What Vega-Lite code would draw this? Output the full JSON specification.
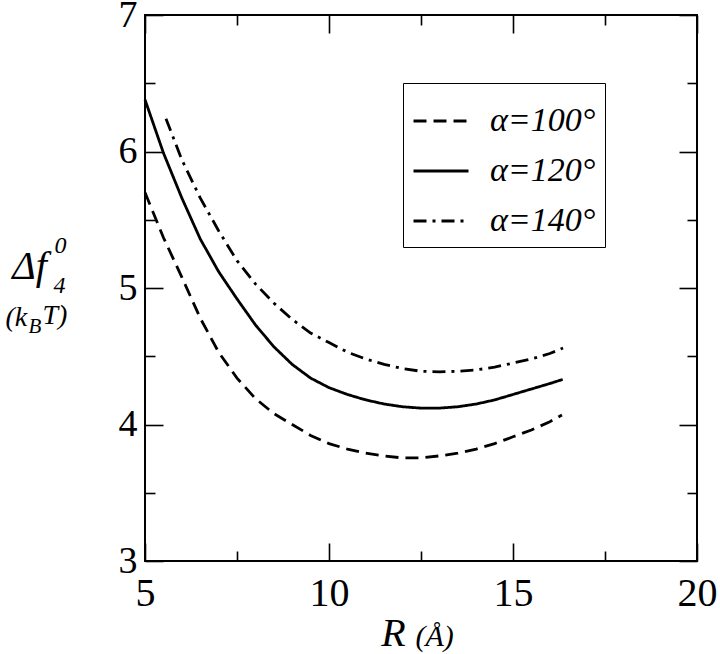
{
  "$schema": "https://vega.github.io/schema/vega-lite/v6.json",
  "width": 552,
  "height": 546,
  "autosize": {"type": "none"},
  "padding": {"left": 145, "top": 15, "right": 23, "bottom": 93},
  "config": {
    "view": {"stroke": "black", "strokeWidth": 2},
    "axis": {"grid": false, "domain": false, "tickColor": "black", "tickWidth": 1.6, "labelColor": "black", "titleColor": "black"}
  },
  "data": {"values": [
    {"a": "α=100°", "R": 5.0, "F": 5.70},
    {"a": "α=100°", "R": 5.5, "F": 5.37},
    {"a": "α=100°", "R": 6.0, "F": 5.08},
    {"a": "α=100°", "R": 6.5, "F": 4.78},
    {"a": "α=100°", "R": 7.0, "F": 4.53},
    {"a": "α=100°", "R": 7.5, "F": 4.34},
    {"a": "α=100°", "R": 8.0, "F": 4.19},
    {"a": "α=100°", "R": 8.5, "F": 4.08},
    {"a": "α=100°", "R": 9.0, "F": 4.00},
    {"a": "α=100°", "R": 9.5, "F": 3.92},
    {"a": "α=100°", "R": 10.0, "F": 3.86},
    {"a": "α=100°", "R": 10.5, "F": 3.82},
    {"a": "α=100°", "R": 11.0, "F": 3.79},
    {"a": "α=100°", "R": 11.5, "F": 3.77},
    {"a": "α=100°", "R": 12.0, "F": 3.755},
    {"a": "α=100°", "R": 12.5, "F": 3.755},
    {"a": "α=100°", "R": 13.0, "F": 3.77},
    {"a": "α=100°", "R": 13.5, "F": 3.79},
    {"a": "α=100°", "R": 14.0, "F": 3.82},
    {"a": "α=100°", "R": 14.5, "F": 3.86},
    {"a": "α=100°", "R": 15.0, "F": 3.91},
    {"a": "α=100°", "R": 15.5, "F": 3.96},
    {"a": "α=100°", "R": 16.0, "F": 4.02},
    {"a": "α=100°", "R": 16.33, "F": 4.07},
    {"a": "α=120°", "R": 5.0, "F": 6.38},
    {"a": "α=120°", "R": 5.5, "F": 5.99},
    {"a": "α=120°", "R": 6.0, "F": 5.66},
    {"a": "α=120°", "R": 6.5, "F": 5.36},
    {"a": "α=120°", "R": 7.0, "F": 5.12},
    {"a": "α=120°", "R": 7.5, "F": 4.92},
    {"a": "α=120°", "R": 8.0, "F": 4.73},
    {"a": "α=120°", "R": 8.5, "F": 4.57},
    {"a": "α=120°", "R": 9.0, "F": 4.44},
    {"a": "α=120°", "R": 9.5, "F": 4.34},
    {"a": "α=120°", "R": 10.0, "F": 4.27},
    {"a": "α=120°", "R": 10.5, "F": 4.22},
    {"a": "α=120°", "R": 11.0, "F": 4.18},
    {"a": "α=120°", "R": 11.5, "F": 4.15},
    {"a": "α=120°", "R": 12.0, "F": 4.13},
    {"a": "α=120°", "R": 12.5, "F": 4.12},
    {"a": "α=120°", "R": 13.0, "F": 4.12},
    {"a": "α=120°", "R": 13.5, "F": 4.13},
    {"a": "α=120°", "R": 14.0, "F": 4.15},
    {"a": "α=120°", "R": 14.5, "F": 4.18},
    {"a": "α=120°", "R": 15.0, "F": 4.22},
    {"a": "α=120°", "R": 15.5, "F": 4.26},
    {"a": "α=120°", "R": 16.0, "F": 4.30},
    {"a": "α=120°", "R": 16.35, "F": 4.33},
    {"a": "α=140°", "R": 5.57, "F": 6.24},
    {"a": "α=140°", "R": 6.0, "F": 5.94},
    {"a": "α=140°", "R": 6.5, "F": 5.66},
    {"a": "α=140°", "R": 7.0, "F": 5.42},
    {"a": "α=140°", "R": 7.5, "F": 5.20},
    {"a": "α=140°", "R": 8.0, "F": 5.03},
    {"a": "α=140°", "R": 8.5, "F": 4.89},
    {"a": "α=140°", "R": 9.0, "F": 4.77},
    {"a": "α=140°", "R": 9.5, "F": 4.67},
    {"a": "α=140°", "R": 10.0, "F": 4.60},
    {"a": "α=140°", "R": 10.5, "F": 4.53},
    {"a": "α=140°", "R": 11.0, "F": 4.48},
    {"a": "α=140°", "R": 11.5, "F": 4.44},
    {"a": "α=140°", "R": 12.0, "F": 4.41},
    {"a": "α=140°", "R": 12.5, "F": 4.39},
    {"a": "α=140°", "R": 13.0, "F": 4.385},
    {"a": "α=140°", "R": 13.5, "F": 4.39},
    {"a": "α=140°", "R": 14.0, "F": 4.40},
    {"a": "α=140°", "R": 14.5, "F": 4.42},
    {"a": "α=140°", "R": 15.0, "F": 4.45},
    {"a": "α=140°", "R": 15.5, "F": 4.48},
    {"a": "α=140°", "R": 16.0, "F": 4.52},
    {"a": "α=140°", "R": 16.36, "F": 4.56}
  ]},
  "resolve": {"axis": {"x": "independent", "y": "independent"}},
  "layer": [
    {
      "mark": {"type": "line", "color": "black", "strokeWidth": 2.8},
      "encoding": {
        "x": {"field": "R", "type": "quantitative", "scale": {"domain": [5, 20], "nice": false, "zero": false},
          "axis": {"orient": "bottom", "values": [5, 10, 15, 20], "format": "d", "tickSize": -18,
            "labelPadding": 30, "labelFont": "Liberation Serif", "labelFontSize": 40, "labelFlush": false,
            "title": "R", "titleFont": "Liberation Serif", "titleFontStyle": "italic", "titleFontWeight": "normal", "titleFontSize": 40, "titleAlign": "center", "titleBaseline": "alphabetic", "titleX": 248, "titleY": 84}},
        "y": {"field": "F", "type": "quantitative", "scale": {"domain": [3, 7], "nice": false, "zero": false},
          "axis": {"orient": "left", "values": [3, 4, 5, 6, 7], "format": "d", "tickSize": -18,
            "labelPadding": 26, "labelFont": "Liberation Serif", "labelFontSize": 38, "labelFlush": false, "labelBaseline": "middle",
            "title": "Δf", "titleFont": "Liberation Serif", "titleFontStyle": "italic", "titleFontWeight": "normal", "titleFontSize": 40, "titleAngle": 0, "titleAlign": "center", "titleBaseline": "alphabetic", "titleX": -116, "titleY": 263}},
        "strokeDash": {"field": "a", "type": "nominal",
          "scale": {"domain": ["α=100°", "α=120°", "α=140°"], "range": [[13, 7], [1, 0], [13, 6, 3, 6]]},
          "legend": {"title": null, "orient": "none", "legendX": 258, "legendY": 68,
            "symbolType": "stroke", "symbolSize": 3025, "symbolStrokeWidth": 3, "symbolStrokeColor": "black",
            "labelFont": "Liberation Serif", "labelFontStyle": "italic", "labelFontSize": 34, "labelColor": "black",
            "labelOffset": 20, "rowPadding": 4, "padding": 9, "strokeColor": "black", "fillColor": "white"}}
      }
    },
    {
      "mark": {"type": "point", "opacity": 0},
      "encoding": {
        "x": {"field": "R", "type": "quantitative", "scale": {"domain": [5, 20], "nice": false, "zero": false},
          "axis": {"orient": "top", "values": [5, 10, 15, 20], "labels": false, "tickSize": -18,
            "title": "0", "titleFont": "Liberation Serif", "titleFontStyle": "italic", "titleFontWeight": "normal", "titleFontSize": 24, "titleAlign": "center", "titleBaseline": "alphabetic", "titleX": -85, "titleY": 237}},
        "y": {"field": "F", "type": "quantitative", "scale": {"domain": [3, 7], "nice": false, "zero": false},
          "axis": {"orient": "right", "values": [3, 4, 5, 6, 7], "labels": false, "tickSize": -18,
            "title": "4", "titleFont": "Liberation Serif", "titleFontStyle": "italic", "titleFontWeight": "normal", "titleFontSize": 24, "titleAngle": 0, "titleAlign": "center", "titleBaseline": "alphabetic", "titleX": -638, "titleY": 277}}
      }
    },
    {
      "mark": {"type": "point", "opacity": 0},
      "encoding": {
        "x": {"field": "R", "type": "quantitative", "scale": {"domain": [5, 20], "nice": false, "zero": false},
          "axis": {"orient": "bottom", "values": [7.5, 12.5, 17.5], "labels": false, "tickSize": -10,
            "title": "(k", "titleFont": "Liberation Serif", "titleFontStyle": "italic", "titleFontWeight": "normal", "titleFontSize": 28, "titleAlign": "left", "titleBaseline": "alphabetic", "titleX": -140, "titleY": -236}},
        "y": {"field": "F", "type": "quantitative", "scale": {"domain": [3, 7], "nice": false, "zero": false},
          "axis": {"orient": "left", "values": [3.5, 4.5, 5.5, 6.5], "labels": false, "tickSize": -10,
            "title": "B", "titleFont": "Liberation Serif", "titleFontStyle": "italic", "titleFontWeight": "normal", "titleFontSize": 21, "titleAngle": 0, "titleAlign": "left", "titleBaseline": "alphabetic", "titleX": -117, "titleY": 317}}
      }
    },
    {
      "mark": {"type": "point", "opacity": 0},
      "encoding": {
        "x": {"field": "R", "type": "quantitative", "scale": {"domain": [5, 20], "nice": false, "zero": false},
          "axis": {"orient": "top", "values": [7.5, 12.5, 17.5], "labels": false, "tickSize": -10,
            "title": "(Å)", "titleFont": "Liberation Serif", "titleFontStyle": "italic", "titleFontWeight": "normal", "titleFontSize": 30, "titleAlign": "left", "titleBaseline": "alphabetic", "titleX": 270, "titleY": 630}},
        "y": {"field": "F", "type": "quantitative", "scale": {"domain": [3, 7], "nice": false, "zero": false},
          "axis": {"orient": "right", "values": [3.5, 4.5, 5.5, 6.5], "labels": false, "tickSize": -10,
            "title": "T)", "titleFont": "Liberation Serif", "titleFontStyle": "italic", "titleFontWeight": "normal", "titleFontSize": 28, "titleAngle": 0, "titleAlign": "left", "titleBaseline": "alphabetic", "titleX": -655, "titleY": 308}}
      }
    }
  ]
}
